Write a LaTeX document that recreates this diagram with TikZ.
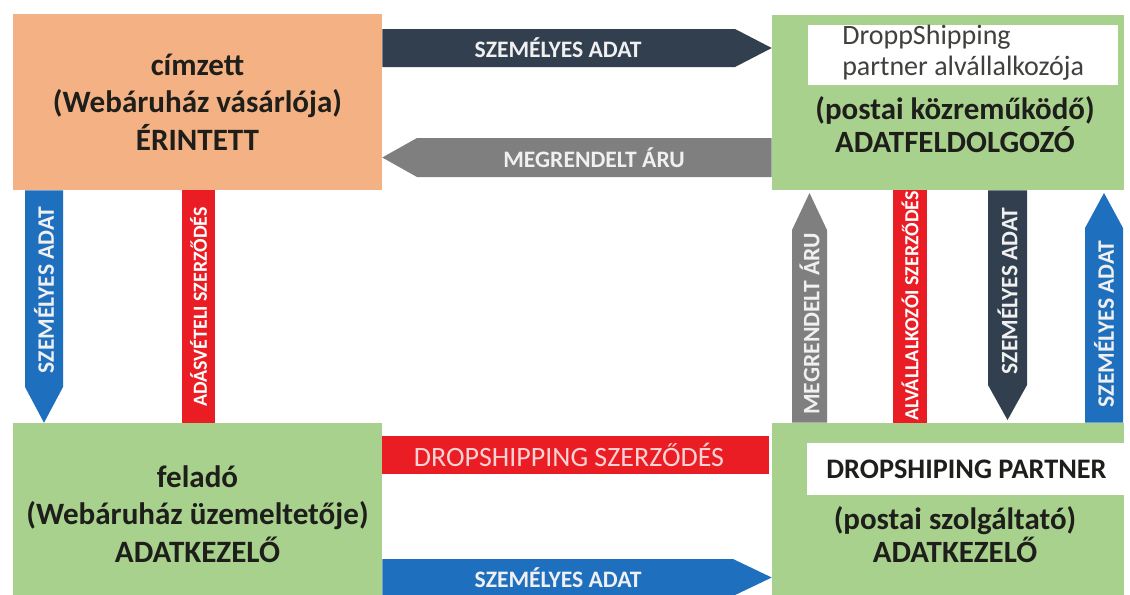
\documentclass[tikz,border=0pt]{standalone}
\usepackage{fontspec}
\setmainfont{Carlito}
\usetikzlibrary{positioning, calc}
\definecolor{narancs}{HTML}{F4B183}
\definecolor{zold}{HTML}{A9D18E}
\definecolor{sotetkek}{HTML}{323F4F}
\definecolor{szurke}{HTML}{7F7F7F}
\definecolor{piros}{HTML}{EA1C24}
\definecolor{kek}{HTML}{1F6FBF}
\definecolor{felirat}{HTML}{F0F0F0}
\definecolor{rozsaszin}{HTML}{FBD3D3}
\definecolor{doboztext}{HTML}{1E1E1A}

\begin{document}
\begin{tikzpicture}[x=0.75pt, y=-0.75pt,
  doboz/.style={
    rectangle, inner sep=0pt, align=center,
    text=doboztext, font=\fontsize{23.3}{28}\selectfont\bfseries
  },
  jobbszoveg/.style={doboz, font=\fontsize{23.2}{24.75}\selectfont\bfseries},
  cimke/.style={rectangle, fill=white, inner sep=0pt, text=doboztext},
  nyilszoveg/.style={inner sep=0pt, text=felirat, font=\fontsize{17.7}{19}\selectfont\bfseries},
  kisszoveg/.style={inner sep=0pt, text=white, font=\fontsize{15}{16}\selectfont\bfseries}
]
  \useasboundingbox[fill=white] (0,0) rectangle (1130,594);

  % dobozok
  \node[doboz, fill=narancs, minimum width=276.75pt, minimum height=132pt] (cimzett) at (197.5,102)
    {címzett\\(Webáruház vásárlója)\\ÉRINTETT};
  \node[doboz, fill=zold, minimum width=276.75pt, minimum height=136.5pt] (felado) at (197.5,514)
    {feladó\\(Webáruház üzemeltetője)\\ADATKEZELŐ};
  \node[doboz, fill=zold, minimum width=264pt, minimum height=131.25pt] (kozrem) at (948,102.5) {};
  \node[doboz, fill=zold, minimum width=264pt, minimum height=136.5pt] (partner) at (948,514) {};

  \node[cimke, minimum width=232.5pt, minimum height=45pt] (kozrem-cimke) at (963,55) {};
  \node[inner sep=0pt, anchor=west, align=left, text=doboztext!85,
        font=\fontsize{21}{23.5}\selectfont] (kozrem-nev) at (842,53)
    {DroppShipping\\partner alvállalkozója};
  \node[jobbszoveg] (kozrem-szoveg) at (955,125) {(postai közreműködő)\\ADATFELDOLGOZÓ};

  \node[cimke, minimum width=239.25pt, minimum height=39pt,
        font=\fontsize{21.2}{23}\selectfont\bfseries] (partner-cimke) at (966.5,469) {DROPSHIPING PARTNER};
  \node[jobbszoveg] (partner-szoveg) at (955,535) {(postai szolgáltató)\\ADATKEZELŐ};

  % vizszintes nyilak
  \fill[sotetkek] (cimzett.east |- 0,29) -- (735,29) -- (kozrem.west |- 0,48)
    -- (735,67) -- (cimzett.east |- 0,67) -- cycle;
  \node[nyilszoveg] (n1) at (558,48) {SZEMÉLYES ADAT};

  \fill[szurke] (kozrem.west |- 0,138) -- (417,138) -- (cimzett.east |- 0,157.5)
    -- (417,177) -- (kozrem.west |- 0,177) -- cycle;
  \node[nyilszoveg] (n2) at (594,157.5) {MEGRENDELT ÁRU};

  \fill[piros] (felado.east |- 0,436) rectangle (769,474);
  \node[inner sep=0pt, text=rozsaszin, font=\fontsize{21}{23}\selectfont] (n3) at (569,455)
    {DROPSHIPPING SZERZŐDÉS};

  \fill[kek] (felado.east |- 0,559) -- (733,559) -- (partner.west |- 0,577.5)
    -- (733,596) -- (felado.east |- 0,596) -- cycle;
  \node[nyilszoveg] (n4) at (558,577.5) {SZEMÉLYES ADAT};

  % fuggoleges nyilak
  \fill[kek] (25,0 |- cimzett.south) -- (25,387) -- (44,0 |- felado.north)
    -- (63,387) -- (63,0 |- cimzett.south) -- cycle;
  \node[nyilszoveg, rotate=90] (n5) at (44,290) {SZEMÉLYES ADAT};

  \fill[piros] (182,0 |- cimzett.south) rectangle (215,0 |- felado.north);
  \node[kisszoveg, rotate=90] (n6) at (198.5,307) {ADÁSVÉTELI SZERZŐDÉS};

  \fill[szurke] (792,0 |- partner.north) -- (792,230) -- (809.5,193)
    -- (827,230) -- (827,0 |- partner.north) -- cycle;
  \node[nyilszoveg, rotate=90] (n7) at (809.5,324) {MEGRENDELT ÁRU};

  \fill[piros] (893,0 |- kozrem.south) rectangle (927,0 |- partner.north);
  \node[kisszoveg, rotate=90] (n8) at (910,306) {ALVÁLLALKOZÓI SZERZŐDÉS};

  \fill[sotetkek] (988,0 |- kozrem.south) -- (988,385) -- (1007.5,420)
    -- (1027,385) -- (1027,0 |- kozrem.south) -- cycle;
  \node[nyilszoveg, rotate=90] (n9) at (1007.5,291) {SZEMÉLYES ADAT};

  \fill[kek] (1085,0 |- partner.north) -- (1085,228) -- (1104,193)
    -- (1123,228) -- (1123,0 |- partner.north) -- cycle;
  \node[nyilszoveg, rotate=90] (n10) at (1104,324) {SZEMÉLYES ADAT};
\end{tikzpicture}
\end{document}
